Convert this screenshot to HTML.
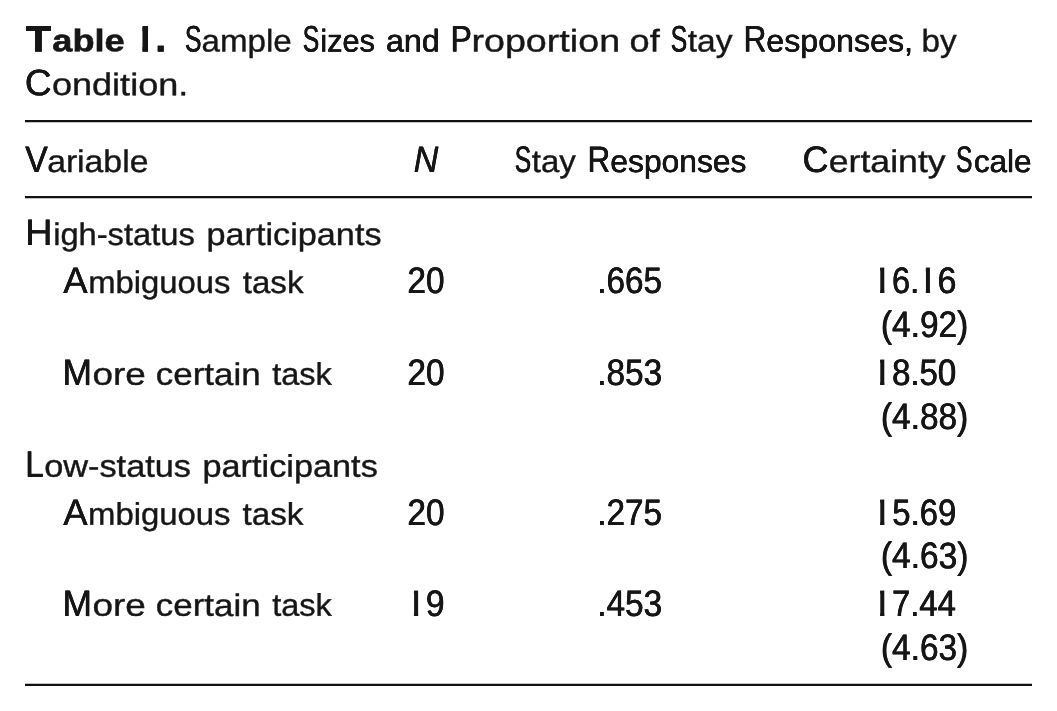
<!DOCTYPE html>
<html lang="en">
<head>
<meta charset="utf-8">
<title>Table 1. Sample Sizes and Proportion of Stay Responses, by Condition.</title>
<style>
html,body{margin:0;padding:0;background:#fff;}
body{width:1057px;height:711px;overflow:hidden;position:relative;font-family:"Liberation Sans",sans-serif;color:#161616;text-rendering:geometricPrecision;}
.cap,.hd,.rw{margin:0;padding:0;height:0;font-size:0;}
.t{position:absolute;left:0;top:0;line-height:1;white-space:pre;transform-origin:0 0;}
.l{font-size:31.3px;-webkit-text-stroke:0.4px #161616;}
.u{font-size:36.9px;-webkit-text-stroke:0.2px #161616;}
.iu{font-size:36.9px;-webkit-text-stroke:0.2px #161616;font-style:italic;}
.bl{font-size:31px;-webkit-text-stroke:0.6px #161616;font-weight:bold;}
.bu{font-size:36px;-webkit-text-stroke:0.85px #161616;font-weight:bold;}
.u.one{clip-path:inset(0 7.93px 0 9.17px);}
.bu.one{clip-path:inset(0 6.65px 0 8.41px);}
.r{position:absolute;background:#111111;}
</style>
</head>
<body>
<div class="cap"><span class="t bu" style="transform:translate(25.94px,21.18px) scaleX(1.1333) rotate(0.03deg);text-shadow:0.11px 0 0 #161616,-0.11px 0 0 #161616">T</span><span class="t bl" style="transform:translate(52.29px,25.30px) scaleX(1.1660) rotate(0.03deg)">able</span> 
<span class="t bu one" style="transform:translate(133.46px,21.18px) scaleX(1.0898) rotate(0.03deg);text-shadow:0.23px 0 0 #161616,-0.23px 0 0 #161616">1</span><span class="t bu" style="transform:translate(155.70px,21.18px) scaleX(1.0046) rotate(0.03deg);text-shadow:0.35px 0 0 #161616,-0.35px 0 0 #161616">.</span> 
<span class="t u" style="transform:translate(184.92px,21.50px) scaleX(0.6679) rotate(0.03deg);text-shadow:0.35px 0 0 #161616,-0.35px 0 0 #161616">S</span><span class="t l" style="transform:translate(201.60px,25.40px) scaleX(1.0572) rotate(0.03deg)">ample</span> 
<span class="t u" style="transform:translate(302.75px,21.50px) scaleX(0.6689) rotate(0.03deg);text-shadow:0.35px 0 0 #161616,-0.35px 0 0 #161616">S</span><span class="t l" style="transform:translate(320.32px,25.40px) scaleX(0.9807) rotate(0.03deg);text-shadow:0.12px 0 0 #161616,-0.12px 0 0 #161616">izes</span> 
<span class="t l" style="transform:translate(385.89px,25.40px) scaleX(1.0335) rotate(0.03deg);text-shadow:0.03px 0 0 #161616,-0.03px 0 0 #161616">and</span> 
<span class="t u" style="transform:translate(450.64px,21.50px) scaleX(0.8581) rotate(0.03deg);text-shadow:0.35px 0 0 #161616,-0.35px 0 0 #161616">P</span><span class="t l" style="transform:translate(471.43px,25.40px) scaleX(1.2039) rotate(0.03deg)">roportion</span> 
<span class="t l" style="transform:translate(629.63px,25.40px) scaleX(1.1550) rotate(0.03deg)">of</span> 
<span class="t u" style="transform:translate(670.69px,21.50px) scaleX(0.6681) rotate(0.03deg);text-shadow:0.35px 0 0 #161616,-0.35px 0 0 #161616">S</span><span class="t l" style="transform:translate(687.77px,25.40px) scaleX(1.0725) rotate(0.03deg)">tay</span> 
<span class="t u" style="transform:translate(743.51px,21.50px) scaleX(0.8604) rotate(0.03deg);text-shadow:0.35px 0 0 #161616,-0.35px 0 0 #161616">R</span><span class="t l" style="transform:translate(766.32px,25.40px) scaleX(1.0284) rotate(0.03deg);text-shadow:0.04px 0 0 #161616,-0.04px 0 0 #161616">esponses,</span> 
<span class="t l" style="transform:translate(921.50px,25.40px) scaleX(1.0625) rotate(0.03deg)">by</span></div>
<div class="cap"><span class="t u" style="transform:translate(24.85px,65.20px) scaleX(1.0083) rotate(0.03deg);text-shadow:0.12px 0 0 #161616,-0.12px 0 0 #161616">C</span><span class="t l" style="transform:translate(51.98px,69.10px) scaleX(1.1519) rotate(0.03deg)">ondition.</span></div>
<div class="r" style="left:25px;top:120px;width:1007px;height:2px"></div>
<div class="r" style="left:25px;top:122px;width:1007px;height:1px;opacity:0.25"></div>
<div class="hd"><span class="t u" style="transform:translate(25.22px,142.05px) scaleX(0.9158) rotate(0.03deg);text-shadow:0.31px 0 0 #161616,-0.31px 0 0 #161616">V</span><span class="t l" style="transform:translate(47.14px,145.95px) scaleX(1.0778) rotate(0.03deg)">ariable</span> 
<span class="t iu" style="transform:translate(413.79px,142.05px) scaleX(0.9203) rotate(0.03deg);text-shadow:0.30px 0 0 #161616,-0.30px 0 0 #161616">N</span> 
<span class="t u" style="transform:translate(514.79px,142.05px) scaleX(0.6666) rotate(0.03deg);text-shadow:0.35px 0 0 #161616,-0.35px 0 0 #161616">S</span><span class="t l" style="transform:translate(531.81px,145.95px) scaleX(1.0558) rotate(0.03deg)">tay</span> 
<span class="t u" style="transform:translate(587.48px,142.05px) scaleX(0.8511) rotate(0.03deg);text-shadow:0.35px 0 0 #161616,-0.35px 0 0 #161616">R</span><span class="t l" style="transform:translate(610.36px,145.95px) scaleX(1.0157) rotate(0.03deg);text-shadow:0.06px 0 0 #161616,-0.06px 0 0 #161616">esponses</span> 
<span class="t u" style="transform:translate(802.51px,142.05px) scaleX(0.9775) rotate(0.03deg);text-shadow:0.18px 0 0 #161616,-0.18px 0 0 #161616">C</span><span class="t l" style="transform:translate(828.84px,145.95px) scaleX(1.1375) rotate(0.03deg)">ertainty</span> 
<span class="t u" style="transform:translate(956.06px,142.05px) scaleX(0.6679) rotate(0.03deg);text-shadow:0.35px 0 0 #161616,-0.35px 0 0 #161616">S</span><span class="t l" style="transform:translate(973.93px,145.95px) scaleX(1.0033) rotate(0.03deg);text-shadow:0.08px 0 0 #161616,-0.08px 0 0 #161616">cale</span></div>
<div class="r" style="left:25px;top:196px;width:1007px;height:2px"></div>
<div class="r" style="left:25px;top:198px;width:1007px;height:1px;opacity:0.25"></div>
<div class="rw"><span class="t u" style="transform:translate(25.22px,215.10px) scaleX(1.0246) rotate(0.03deg);text-shadow:0.09px 0 0 #161616,-0.09px 0 0 #161616">H</span><span class="t l" style="transform:translate(53.15px,219.00px) scaleX(1.0435) rotate(0.03deg)">igh-status</span> 
<span class="t l" style="transform:translate(206.56px,219.00px) scaleX(1.0931) rotate(0.03deg)">participants</span></div>
<div class="rw"><span class="t u" style="transform:translate(63.33px,263.05px) scaleX(0.9850) rotate(0.03deg);text-shadow:0.17px 0 0 #161616,-0.17px 0 0 #161616">A</span><span class="t l" style="transform:translate(88.18px,266.95px) scaleX(1.0478) rotate(0.03deg)">mbiguous</span> 
<span class="t l" style="transform:translate(242.80px,266.95px) scaleX(1.0567) rotate(0.03deg)">task</span> 
<span class="t u" style="transform:translate(407.40px,263.05px) scaleX(0.9041) rotate(0.03deg);text-shadow:0.34px 0 0 #161616,-0.34px 0 0 #161616">20</span> 
<span class="t u" style="transform:translate(597.21px,263.05px) scaleX(0.9040) rotate(0.03deg);text-shadow:0.34px 0 0 #161616,-0.34px 0 0 #161616">.665</span> 
<span class="t u one" style="transform:translate(868.43px,263.05px) scaleX(1.2726) rotate(0.03deg)">1</span><span class="t u" style="transform:translate(892.03px,263.05px) scaleX(0.8855) rotate(0.03deg);text-shadow:0.35px 0 0 #161616,-0.35px 0 0 #161616">6.</span><span class="t u one" style="transform:translate(914.56px,263.05px) scaleX(1.2301) rotate(0.03deg)">1</span><span class="t u" style="transform:translate(937.41px,263.05px) scaleX(0.9255) rotate(0.03deg);text-shadow:0.29px 0 0 #161616,-0.29px 0 0 #161616">6</span></div>
<div class="rw"><span class="t u" style="transform:translate(880.92px,307.00px) scaleX(0.9064) rotate(0.03deg);text-shadow:0.33px 0 0 #161616,-0.33px 0 0 #161616">(4.92)</span></div>
<div class="rw"><span class="t u" style="transform:translate(62.49px,354.95px) scaleX(0.9584) rotate(0.03deg);text-shadow:0.22px 0 0 #161616,-0.22px 0 0 #161616">M</span><span class="t l" style="transform:translate(92.48px,358.85px) scaleX(1.1791) rotate(0.03deg)">ore</span> 
<span class="t l" style="transform:translate(155.81px,358.85px) scaleX(1.1154) rotate(0.03deg)">certain</span> 
<span class="t l" style="transform:translate(272.20px,358.85px) scaleX(1.0392) rotate(0.03deg)">task</span> 
<span class="t u" style="transform:translate(407.40px,354.95px) scaleX(0.9041) rotate(0.03deg);text-shadow:0.34px 0 0 #161616,-0.34px 0 0 #161616">20</span> 
<span class="t u" style="transform:translate(597.21px,354.95px) scaleX(0.9048) rotate(0.03deg);text-shadow:0.33px 0 0 #161616,-0.33px 0 0 #161616">.853</span> 
<span class="t u one" style="transform:translate(868.43px,354.95px) scaleX(1.2726) rotate(0.03deg)">1</span><span class="t u" style="transform:translate(892.10px,354.95px) scaleX(0.8927) rotate(0.03deg);text-shadow:0.35px 0 0 #161616,-0.35px 0 0 #161616">8.50</span></div>
<div class="rw"><span class="t u" style="transform:translate(880.92px,398.90px) scaleX(0.9064) rotate(0.03deg);text-shadow:0.33px 0 0 #161616,-0.33px 0 0 #161616">(4.88)</span></div>
<div class="rw"><span class="t u" style="transform:translate(25.27px,446.85px) scaleX(0.9017) rotate(0.03deg);text-shadow:0.34px 0 0 #161616,-0.34px 0 0 #161616">L</span><span class="t l" style="transform:translate(44.17px,450.75px) scaleX(1.0966) rotate(0.03deg)">ow-status</span> 
<span class="t l" style="transform:translate(202.45px,450.75px) scaleX(1.0956) rotate(0.03deg)">participants</span></div>
<div class="rw"><span class="t u" style="transform:translate(63.33px,494.90px) scaleX(0.9850) rotate(0.03deg);text-shadow:0.17px 0 0 #161616,-0.17px 0 0 #161616">A</span><span class="t l" style="transform:translate(88.11px,498.80px) scaleX(1.0495) rotate(0.03deg)">mbiguous</span> 
<span class="t l" style="transform:translate(242.50px,498.80px) scaleX(1.0626) rotate(0.03deg)">task</span> 
<span class="t u" style="transform:translate(407.40px,494.90px) scaleX(0.9041) rotate(0.03deg);text-shadow:0.34px 0 0 #161616,-0.34px 0 0 #161616">20</span> 
<span class="t u" style="transform:translate(597.21px,494.90px) scaleX(0.9040) rotate(0.03deg);text-shadow:0.34px 0 0 #161616,-0.34px 0 0 #161616">.275</span> 
<span class="t u one" style="transform:translate(868.43px,494.90px) scaleX(1.2726) rotate(0.03deg)">1</span><span class="t u" style="transform:translate(892.31px,494.90px) scaleX(0.8910) rotate(0.03deg);text-shadow:0.35px 0 0 #161616,-0.35px 0 0 #161616">5.69</span></div>
<div class="rw"><span class="t u" style="transform:translate(880.92px,538.10px) scaleX(0.9086) rotate(0.03deg);text-shadow:0.33px 0 0 #161616,-0.33px 0 0 #161616">(4.63)</span></div>
<div class="rw"><span class="t u" style="transform:translate(62.49px,585.95px) scaleX(0.9584) rotate(0.03deg);text-shadow:0.22px 0 0 #161616,-0.22px 0 0 #161616">M</span><span class="t l" style="transform:translate(92.48px,589.85px) scaleX(1.1791) rotate(0.03deg)">ore</span> 
<span class="t l" style="transform:translate(155.81px,589.85px) scaleX(1.1154) rotate(0.03deg)">certain</span> 
<span class="t l" style="transform:translate(272.20px,589.85px) scaleX(1.0392) rotate(0.03deg)">task</span> 
<span class="t u one" style="transform:translate(402.52px,585.95px) scaleX(1.2478) rotate(0.03deg)">1</span><span class="t u" style="transform:translate(425.73px,585.95px) scaleX(0.9188) rotate(0.03deg);text-shadow:0.30px 0 0 #161616,-0.30px 0 0 #161616">9</span> 
<span class="t u" style="transform:translate(597.21px,585.95px) scaleX(0.9048) rotate(0.03deg);text-shadow:0.33px 0 0 #161616,-0.33px 0 0 #161616">.453</span> 
<span class="t u one" style="transform:translate(868.43px,585.95px) scaleX(1.2726) rotate(0.03deg)">1</span><span class="t u" style="transform:translate(892.00px,585.95px) scaleX(0.8891) rotate(0.03deg);text-shadow:0.35px 0 0 #161616,-0.35px 0 0 #161616">7.44</span></div>
<div class="rw"><span class="t u" style="transform:translate(880.92px,630.00px) scaleX(0.9064) rotate(0.03deg);text-shadow:0.33px 0 0 #161616,-0.33px 0 0 #161616">(4.63)</span></div>
<div class="r" style="left:25px;top:683px;width:1007px;height:1px;opacity:0.25"></div>
<div class="r" style="left:25px;top:684px;width:1007px;height:2px"></div>
</body>
</html>
